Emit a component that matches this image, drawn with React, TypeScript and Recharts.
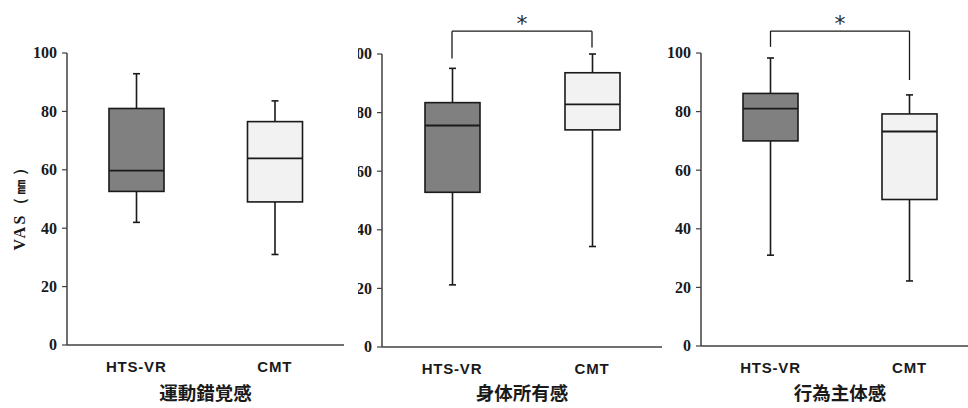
import React from "react";
import { Bar, BarChart, Label, ReferenceLine, XAxis, YAxis } from "recharts";

// Group names, panel titles, and the five-number summaries (VAS, mm).
const groups = ["HTS-VR", "CMT"];
const titles = ["運動錯覚感", "身体所有感", "行為主体感"];
const whiskerLow = [[42, 31], [21.2, 34.3], [31, 22.2]];
const lowerQuartile = [[52.6, 49], [52.8, 74.1], [70, 50]];
const median = [[59.7, 63.9], [75.6, 82.8], [81, 73.2]];
const upperQuartile = [[81, 76.5], [83.4, 93.6], [86.2, 79.2]];
const whiskerHigh = [[92.9, 83.6], [95.1, 100], [98.3, 85.7]];
const yTicks = [0, 20, 40, 60, 80, 100];
// Significance brackets (y of bar, y of left leg end, y of right leg end), null = none.
const brackets: (null | { top: number; left: number; right: number })[] = [
  null,
  { top: 107.8, left: 98.5, right: 102.2 },
  { top: 107.5, left: 102.1, right: 90.8 },
];

const boxFills = ["#808080", "#f2f2f2"];
const SERIF = '"Liberation Serif", "Times New Roman", serif';
const SANS = '"Liberation Sans", Arial, sans-serif';
const CJK = '"Noto Sans CJK JP", sans-serif';
const INK = "#1a1a1a";
const AXIS = "#404040";

// where each panel sits on the page
const layouts = [
  { left: 0, width: 345, axisX: 67, plotW: 277, top: 53, bottom: 345 },
  { left: 358, width: 306, axisX: 24, plotW: 280, top: 54, bottom: 347 },
  { left: 660, width: 321, axisX: 41, plotW: 278, top: 53, bottom: 346 },
];

function BoxShape(props: any) {
  const { x, y, width, height, payload } = props;
  const [lo, hi] = payload.range;
  // map a value to pixels using the bar's own [min, max] extent
  const px = (v: number) => y + (height * (hi - v)) / (hi - lo);
  const cx = x + width / 2;
  const cap = 3.5;
  const yQ1 = px(payload.q1);
  const yQ3 = px(payload.q3);
  const yMed = px(payload.median);
  return (
    <g stroke={INK} strokeWidth={1.6}>
      <line x1={cx} x2={cx} y1={y} y2={yQ3} />
      <line x1={cx} x2={cx} y1={yQ1} y2={y + height} />
      <line x1={cx - cap} x2={cx + cap} y1={y} y2={y} />
      <line x1={cx - cap} x2={cx + cap} y1={y + height} y2={y + height} />
      <rect x={x} y={yQ3} width={width} height={yQ1 - yQ3} fill={payload.fill} />
      <line x1={x} x2={x + width} y1={yMed} y2={yMed} strokeWidth={1.8} />
    </g>
  );
}

function YTick(props: any) {
  const { x, y, payload } = props;
  return (
    <text
      x={x}
      y={y}
      dy="0.34em"
      textAnchor="end"
      fontFamily={SERIF}
      fontWeight="bold"
      fontSize={16}
      fill={INK}
    >
      {payload.value}
    </text>
  );
}

function XTick(props: any) {
  const { x, y, payload } = props;
  return (
    <text
      x={x}
      y={y}
      dy="0.36em"
      textAnchor="middle"
      fontFamily={SANS}
      fontWeight="bold"
      fontSize={15}
      letterSpacing={0.8}
      fill={INK}
    >
      {payload.value}
    </text>
  );
}

function VasLabel(props: any) {
  const vb = props.viewBox;
  const cy = vb.y + vb.height / 2 + 5;
  return (
    <text
      transform={`translate(25, ${cy}) rotate(-90)`}
      textAnchor="middle"
      fontFamily={SERIF}
      fontWeight="bold"
      fontSize={16}
      letterSpacing={2.5}
      fill={INK}
    >
      VAS（㎜）
    </text>
  );
}

function Panel({ index }: { index: number }) {
  const l = layouts[index];
  const rows = groups.map((g, j) => ({
    group: g,
    range: [whiskerLow[index][j], whiskerHigh[index][j]],
    q1: lowerQuartile[index][j],
    median: median[index][j],
    q3: upperQuartile[index][j],
    fill: boxFills[j],
  }));
  const br = brackets[index];

  return (
    <div
      style={{
        position: "absolute",
        left: l.left,
        top: 0,
        width: l.width,
        height: 408,
        overflow: "hidden",
      }}
    >
      <BarChart
        width={l.width}
        height={408}
        data={rows}
        margin={{ top: l.top, right: l.width - l.axisX - l.plotW, bottom: 0, left: 0 }}
        style={{ overflow: "hidden" }}
      >
        <XAxis
          dataKey="group"
          height={408 - l.bottom}
          axisLine={{ stroke: AXIS, strokeWidth: 1.5 }}
          tickLine={false}
          tickSize={0}
          tickMargin={22}
          tick={<XTick />}
          interval={0}
        >
          <Label
            value={titles[index]}
            position="insideBottom"
            offset={8}
            style={{ fontFamily: CJK, fontWeight: 700, fontSize: 18.5, fill: INK }}
          />
        </XAxis>
        <YAxis
          type="number"
          domain={[0, 100]}
          ticks={yTicks}
          width={l.axisX}
          axisLine={{ stroke: AXIS, strokeWidth: 1.5 }}
          tickLine={{ stroke: AXIS, strokeWidth: 1.2 }}
          tickSize={5}
          tickMargin={5}
          tick={<YTick />}
          interval={0}
          label={index === 0 ? <VasLabel /> : undefined}
        />
        <Bar dataKey="range" barSize={55} shape={<BoxShape />} isAnimationActive={false} />
        {br && (
          <ReferenceLine
            segment={[
              { x: groups[0], y: br.top },
              { x: groups[1], y: br.top },
            ]}
            ifOverflow="visible"
            stroke={INK}
            strokeWidth={1.3}
          >
            <Label
              value="*"
              position="top"
              offset={0}
              fill="#2a2a2a"
              style={{ fontFamily: '"DejaVu Sans", sans-serif', fontSize: 22, fill: "#2a2a2a" }}
            />
          </ReferenceLine>
        )}
        {br && (
          <ReferenceLine
            segment={[
              { x: groups[0], y: br.top },
              { x: groups[0], y: br.left },
            ]}
            ifOverflow="visible"
            stroke={INK}
            strokeWidth={1.3}
          />
        )}
        {br && (
          <ReferenceLine
            segment={[
              { x: groups[1], y: br.top },
              { x: groups[1], y: br.right },
            ]}
            ifOverflow="visible"
            stroke={INK}
            strokeWidth={1.3}
          />
        )}
      </BarChart>
    </div>
  );
}

export default function App() {
  return (
    <div
      style={{
        position: "absolute",
        left: 0,
        top: 0,
        width: 968,
        height: 408,
        overflow: "hidden",
        background: "#fff",
      }}
    >
      {titles.map((_, i) => (
        <Panel key={i} index={i} />
      ))}
    </div>
  );
}
